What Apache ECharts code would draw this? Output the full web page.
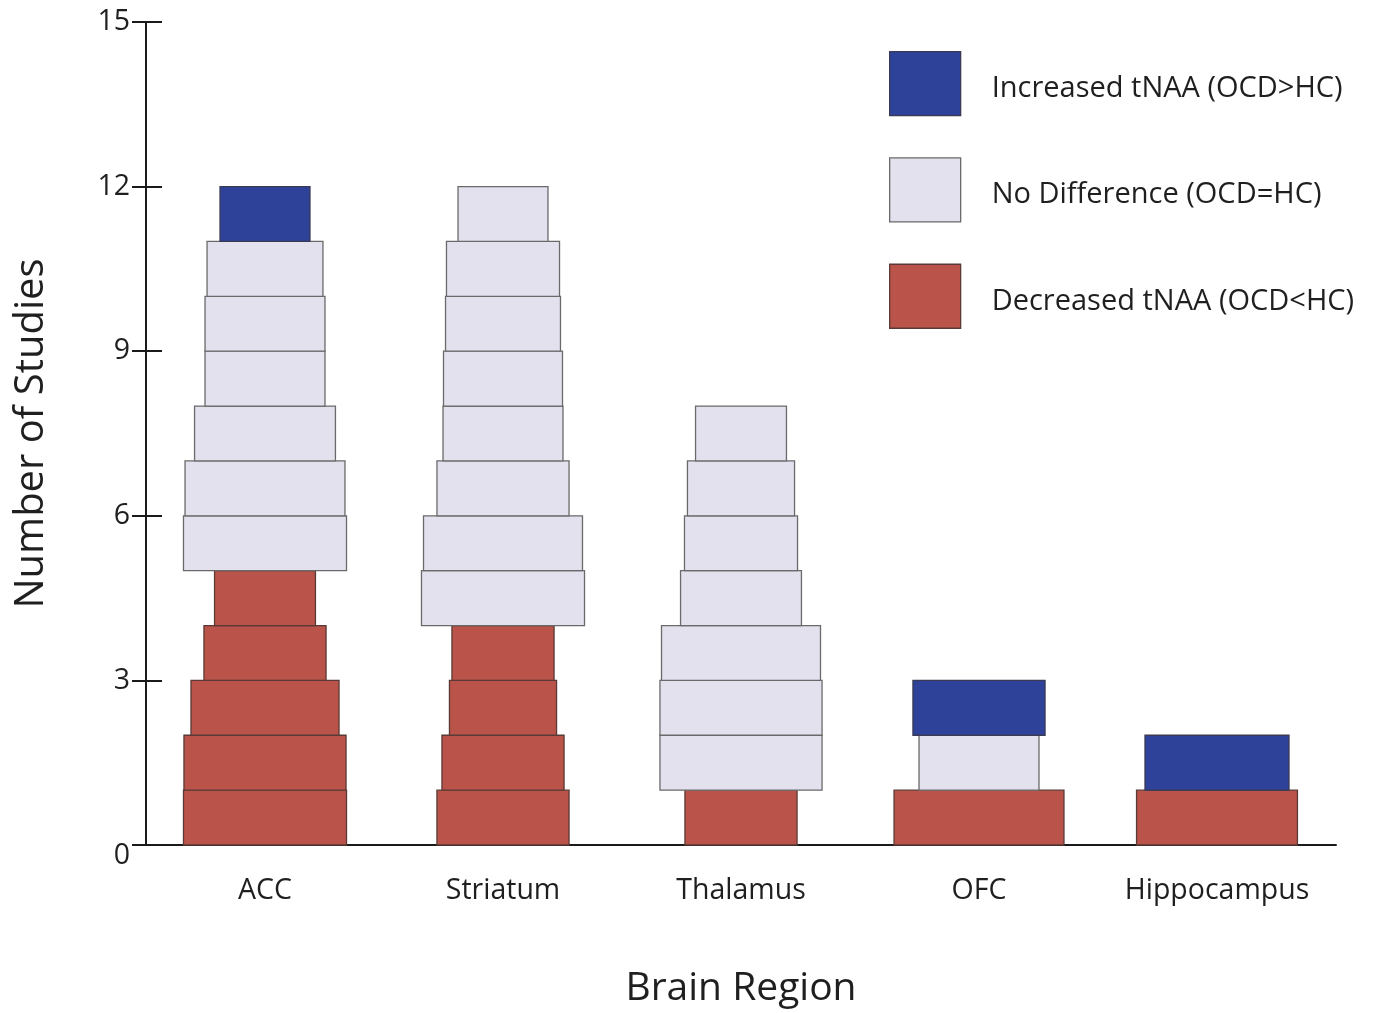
<!DOCTYPE html>
<html>
<head>
<meta charset="utf-8">
<script src="https://cdn.jsdelivr.net/npm/echarts@6/dist/echarts.min.js"></script>
<style>
html,body{margin:0;padding:0;background:#fff;}
#chart{width:1374px;height:1013px;}
</style>
</head>
<body>
<div id="chart"></div>
<script>
// ---- Data ----
const categories = ['ACC', 'Striatum', 'Thalamus', 'OFC', 'Hippocampus'];
const seriesNames = ['Increased tNAA (OCD>HC)', 'No Difference (OCD=HC)', 'Decreased tNAA (OCD<HC)'];
// number of studies per region (stacked bottom→top: decreased, no difference, increased)
const decreased    = [5, 4, 1, 1, 1];
const noDifference = [6, 8, 7, 1, 0];
const increased    = [1, 0, 0, 1, 1];
// relative width of each study block (% of category band), bottom→top
const studyWidths = [
  [68.5, 68.1, 62.2, 51.3, 42.4, 68.5, 67.2, 59.2, 50.4, 50.4, 48.7, 37.8],
  [55.5, 51.3, 45.0, 42.9, 68.5, 66.8, 55.5, 50.4, 50.0, 48.3, 47.5, 37.8],
  [47.1, 68.1, 68.1, 66.8, 50.8, 47.5, 45.0, 38.2],
  [71.4, 50.4, 55.5],
  [67.6, 60.5]
];
const yTicks = [0, 3, 6, 9, 12, 15];

// ---- Build blocks ----
const blocks = { dec: [], nd: [], inc: [] };
categories.forEach((c, i) => {
  let level = 0;
  const push = (key, n) => {
    for (let k = 0; k < n; k++) {
      blocks[key].push([i, level, studyWidths[i][level]]);
      level++;
    }
  };
  push('dec', decreased[i]);
  push('nd', noDifference[i]);
  push('inc', increased[i]);
});

const colors = { inc: '#2E4299', nd: '#E3E1EE', dec: '#BA5349' };
const borders = { inc: '#3a3a55', nd: '#6a6a6a', dec: '#5a3a36' };

function renderBlock(params, api) {
  const x = api.value(0), y0 = api.value(1), w = api.value(2);
  const bottom = api.coord([x, y0]);
  const top = api.coord([x, y0 + 1]);
  const band = api.size([1, 0])[0];
  const width = band * w / 100;
  return {
    type: 'rect',
    shape: { x: bottom[0] - width / 2, y: top[1], width: width, height: bottom[1] - top[1] },
    style: api.style()
  };
}

function makeSeries(key, name) {
  return {
    type: 'custom',
    name: name,
    renderItem: renderBlock,
    data: blocks[key],
    encode: { x: 0, y: 1 },
    itemStyle: { color: colors[key], borderColor: borders[key], borderWidth: 1.3 },
    silent: true
  };
}

const FONT = '"Open Sans", "Noto Sans", sans-serif';
const TXT = '#1f1f1f';
const chart = echarts.init(document.getElementById('chart'), null, { renderer: 'canvas' });
chart.setOption({
  backgroundColor: '#ffffff',
  animation: false,
  grid: { left: 146, right: 38, top: 22, bottom: 166, containLabel: false },
  legend: {
    orient: 'vertical',
    left: 889,
    top: 51,
    padding: 0,
    itemWidth: 71,
    itemHeight: 64,
    itemGap: 41,
    icon: 'rect',
    selectedMode: false,
    formatter: name => '{t|' + name + '}',
    textStyle: {
      fontFamily: FONT, fontSize: 29, color: TXT,
      rich: { t: { fontFamily: FONT, fontSize: 29, color: TXT, padding: [10, 0, 0, 26] } }
    },
    data: [
      { name: seriesNames[0], itemStyle: { color: colors.inc, borderColor: borders.inc, borderWidth: 1.3 } },
      { name: seriesNames[1], itemStyle: { color: colors.nd, borderColor: borders.nd, borderWidth: 1.3 } },
      { name: seriesNames[2], itemStyle: { color: colors.dec, borderColor: borders.dec, borderWidth: 1.3 } }
    ]
  },
  xAxis: {
    type: 'category',
    data: categories,
    boundaryGap: true,
    name: 'Brain Region',
    nameLocation: 'middle',
    nameGap: 124,
    nameTextStyle: { fontFamily: FONT, fontSize: 39, color: TXT },
    axisLine: { lineStyle: { color: '#1a1a1a', width: 2 } },
    axisTick: { show: false },
    axisLabel: { interval: 0, fontFamily: FONT, fontSize: 28.5, color: TXT, margin: 31 },
    splitLine: { show: false }
  },
  yAxis: [{
    type: 'value',
    min: 0, max: 15, interval: 3,
    name: 'Number of Studies',
    nameLocation: 'middle',
    nameGap: 94,
    nameRotate: 90,
    nameTextStyle: { fontFamily: FONT, fontSize: 40, color: TXT },
    axisLine: { show: true, lineStyle: { color: '#1a1a1a', width: 2 } },
    axisTick: { show: true, length: 14, lineStyle: { color: '#1a1a1a', width: 2 } },
    axisLabel: {
      fontFamily: FONT, fontSize: 28.5, color: TXT, margin: 16,
      formatter: v => yTicks.indexOf(v) >= 0 ? (v === 0 ? '{z|0}' : String(v)) : '',
      rich: { z: { fontFamily: FONT, fontSize: 28.5, color: TXT, padding: [22, 0, 0, 0] } }
    },
    splitLine: { show: false }
  }, {
    type: 'value',
    min: 0, max: 15, interval: 3,
    position: 'left',
    axisLine: { show: false },
    axisTick: { show: true, inside: true, length: 16, lineStyle: { color: '#1a1a1a', width: 2 } },
    axisLabel: { show: false },
    splitLine: { show: false }
  }],
  series: [
    makeSeries('dec', seriesNames[2]),
    makeSeries('nd', seriesNames[1]),
    makeSeries('inc', seriesNames[0])
  ]
});
</script>
</body>
</html>
